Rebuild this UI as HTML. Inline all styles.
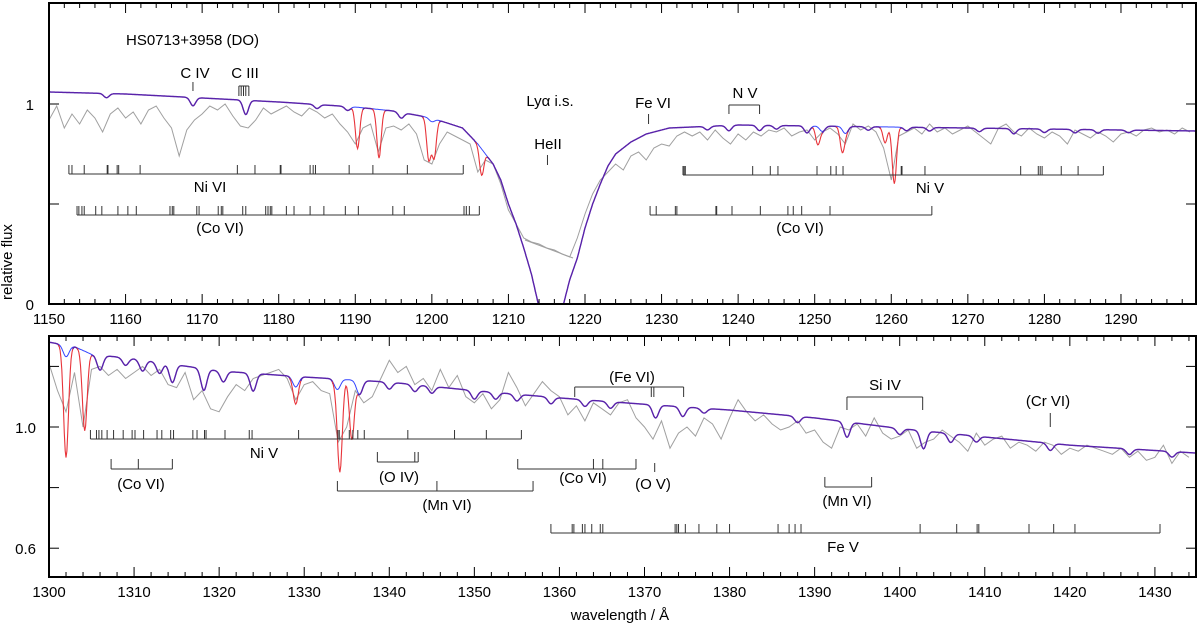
<!DOCTYPE html>
<html><head><meta charset="utf-8"><style>
html,body{margin:0;padding:0;background:#fff;}
svg{display:block;font-family:"Liberation Sans",Arial,sans-serif;}
</style></head><body>
<svg id="chart" width="1200" height="627" viewBox="0 0 1200 627" xmlns="http://www.w3.org/2000/svg">
<defs>
<clipPath id="clipTop"><rect x="49" y="3" width="1147" height="301"/></clipPath>
<clipPath id="clipBot"><rect x="49" y="336" width="1147" height="241"/></clipPath>
</defs>
<g id="topG"></g>
<g id="botG"></g>
<g id="annG"></g>
<g id="axG"></g>
<text x="12" y="262" font-size="15" text-anchor="middle" transform="rotate(-90 12 262)">relative flux</text>
<text x="620" y="620" font-size="15" text-anchor="middle">wavelength / Å</text>
<text x="126" y="45" font-size="15">HS0713+3958 (DO)</text>
</svg>
<script>
// ---------- data ----------
const topObsStart = 1150;
const topObs = [0.92,0.99,0.88,0.95,0.90,0.97,0.93,0.86,0.95,0.98,
0.93,0.96,0.90,0.97,0.99,0.93,0.88,0.74,0.87,0.92,
0.95,0.99,0.97,1.00,0.94,0.89,0.88,0.92,0.98,0.95,
0.97,0.99,0.96,0.94,0.98,0.96,0.93,0.95,0.90,0.86,
0.80,0.88,0.90,0.76,0.88,0.89,0.87,0.90,0.85,0.72,
0.70,0.80,0.86,0.84,0.82,0.80,0.66,0.72,0.70,0.60,
0.47,0.40,0.33,0.31,0.30,0.28,0.27,0.25,0.235,0.33,
0.45,0.55,0.62,0.66,0.70,0.67,0.74,0.76,0.72,0.78,
0.80,0.79,0.84,0.86,0.84,0.86,0.82,0.87,0.83,0.80,
0.85,0.82,0.86,0.84,0.87,0.86,0.88,0.84,0.86,0.87,
0.82,0.86,0.88,0.85,0.80,0.90,0.87,0.89,0.86,0.78,
0.62,0.84,0.86,0.88,0.85,0.90,0.86,0.88,0.85,0.87,
0.89,0.86,0.83,0.80,0.88,0.90,0.86,0.84,0.88,0.85,
0.83,0.86,0.84,0.80,0.87,0.85,0.83,0.86,0.84,0.81,
0.85,0.86,0.84,0.87,0.88,0.86,0.87,0.85,0.88,0.86];
const topContWl = [1150,1160,1170,1180,1190,1195,1200,1204,1206,1208,1209,1210,1211,1212,1213,1213.9,1217.2,1218,1219,1220,1221,1222,1223,1224,1226,1228,1231,1240,1260,1280,1300];
const topContFx = [1.06,1.05,1.03,1.01,0.985,0.965,0.93,0.88,0.80,0.70,0.62,0.50,0.40,0.28,0.15,0.0,0.0,0.12,0.23,0.38,0.50,0.60,0.69,0.75,0.81,0.85,0.88,0.895,0.885,0.875,0.865];
const topBaseLineWl = [1157.5,1168.8,1175.7,1185,1189,1196,1200,1236,1238.8,1242.8,1245,1249,1251,1254,1257,1262,1265,1271.5,1276,1280,1284,1287,1291];
const topBaseLineDp = [0.02,0.04,0.07,0.02,0.02,0.03,0.02,0.02,0.03,0.03,0.02,0.04,0.03,0.04,0.02,0.02,0.02,0.02,0.03,0.02,0.02,0.02,0.015];
const topRedWl = [1190.3,1193.1,1199.6,1200.3,1206.5,1250.4,1253.6,1259.2,1260.4];
const topRedDp = [0.21,0.25,0.22,0.2,0.17,0.10,0.13,0.09,0.32];

const botObsStart = 1300;
const botObs = [1.21,1.12,1.05,1.18,1.00,1.19,1.20,1.17,1.19,1.16,
1.18,1.20,1.17,1.19,1.14,1.13,1.18,1.09,1.12,1.06,
1.05,1.10,1.14,1.12,1.16,1.17,1.18,1.19,1.16,1.09,
1.14,1.15,1.12,1.11,0.95,1.00,1.12,1.08,1.10,1.16,
1.22,1.18,1.20,1.14,1.16,1.12,1.19,1.13,1.17,1.10,
1.08,1.11,1.06,1.09,1.18,1.13,1.07,1.11,1.15,1.12,
1.10,1.04,1.07,1.02,1.08,1.06,1.04,1.08,1.09,1.03,
1.00,0.96,1.02,0.93,0.98,1.00,0.97,1.03,1.01,0.96,
1.03,1.09,1.05,1.02,1.04,1.01,0.99,1.00,1.02,0.98,
0.99,0.95,0.93,1.00,0.99,1.01,0.97,1.03,0.98,0.96,
0.97,0.99,0.93,0.95,0.96,0.99,0.97,0.95,0.92,0.98,
0.94,0.96,0.97,0.93,0.95,0.94,0.92,0.95,0.94,0.91,
0.93,0.92,0.94,0.93,0.92,0.91,0.93,0.90,0.92,0.89,
0.90,0.94,0.88,0.92,0.90];
const botContWl = [1300,1303,1305,1310,1320,1330,1340,1350,1360,1370,1380,1390,1400,1410,1420,1436];
const botContFx = [1.28,1.265,1.24,1.225,1.185,1.165,1.148,1.12,1.096,1.075,1.056,1.03,0.995,0.967,0.94,0.912];
const botBaseLineWl = [1302,1306,1309,1311,1313,1314.5,1318.2,1320.5,1324,1329,1333.9,1336.5,1340,1343,1345,1350,1352.5,1355,1359,1363,1366,1371.3,1374.5,1377,1388,1393.8,1400,1402.8,1406,1409,1417.7,1427,1432];
const botBaseLineDp = [0.03,0.04,0.02,0.03,0.03,0.05,0.06,0.03,0.05,0.03,0.03,0.04,0.02,0.02,0.02,0.025,0.02,0.02,0.02,0.02,0.02,0.04,0.03,0.015,0.02,0.05,0.02,0.06,0.03,0.02,0.025,0.02,0.02];
const botRedWl = [1302.0,1304.2,1329.0,1334.2,1335.6];
const botRedDp = [0.27,0.21,0.05,0.25,0.17];

const topTicksMajor = [1150,1160,1170,1180,1190,1200,1210,1220,1230,1240,1250,1260,1270,1280,1290];
const botTicksMajor = [1300,1310,1320,1330,1340,1350,1360,1370,1380,1390,1400,1410,1420,1430];

const niVITop = [1152.6,1153.0,1154.6,1157.6,1157.7,1158.9,1159.1,1161.9,1174.6,1176.9,1180.2,1180.3,1184.1,1184.5,1184.8,1189.2,1192.3,1196.8,1204.1];
const coVITopL = [1153.66,1153.9,1154.3,1154.6,1156.1,1156.9,1159.0,1160.3,1161.4,1165.8,1166.1,1166.3,1169.3,1169.6,1172.1,1172.5,1172.7,1175.3,1175.7,1178.3,1178.6,1178.9,1179.1,1181.0,1182.0,1184.1,1185.9,1188.7,1190.4,1194.9,1196.4,1204.2,1204.5,1204.9,1206.2];
const niVTop = [1232.8,1232.95,1233.1,1241.9,1244.2,1245.2,1250.3,1252.1,1252.8,1253.7,1261.3,1261.4,1264.4,1276.9,1279.2,1279.45,1279.7,1282.2,1284.4,1287.7];
const coVITopR = [1228.5,1229.3,1231.8,1232.0,1237.1,1237.2,1239.2,1242.9,1246.5,1247.2,1248.3,1252.0,1265.3];
const niVBot = [1304.87,1305.58,1305.87,1306.21,1306.83,1307.59,1308.72,1309.77,1310.11,1311.12,1312.7,1313.26,1314.3,1314.64,1316.91,1317.4,1318.28,1318.46,1320.69,1323.54,1323.87,1329.34,1333.96,1334.12,1335.3,1335.72,1336.3,1337.06,1342.18,1347.67,1351.41,1355.53];
const feVBot = [1359.0,1361.5,1361.7,1362.7,1363.0,1363.8,1364.8,1365.1,1373.6,1373.8,1374.0,1374.8,1376.4,1378.5,1380.0,1385.7,1387.0,1387.7,1388.4,1402.4,1406.7,1409.1,1409.3,1415.2,1418.1,1420.6,1430.6];
const coVIBotL = [1307.3,1310.5,1314.5];
const oIVBot = [1338.6,1343.0,1343.4];
const mnVIBotL = [1333.9,1345.6,1356.9];
const coVIBotM = [1355.1,1364.0,1365.1,1369.0];
const feVIBot = [1361.8,1370.8,1371.1,1374.6];
const mnVIBotR = [1391.2,1396.7];
const siIVBot = [1393.8,1402.7];
const nVTop = [1238.8,1242.8];
const cIIITop = [1174.8,1175.1,1175.4,1175.7,1176.1];

// ---------- axes ----------
const NS='http://www.w3.org/2000/svg';
const xTop = l => 49 + (l-1150)*7.657;
const yTop = f => 304 - f*200;
const xBot = l => 49 + (l-1300)*8.507;
const yBot = f => 427 - (f-1)*303;

function el(tag, attrs, parent){const e=document.createElementNS(NS,tag);for(const k in attrs)e.setAttribute(k,attrs[k]);parent.appendChild(e);return e;}
function interp(xs,ys,x){if(x<=xs[0])return ys[0];for(let i=1;i<xs.length;i++){if(x<=xs[i]){const t=(x-xs[i-1])/(xs[i]-xs[i-1]);return ys[i-1]+t*(ys[i]-ys[i-1]);}}return ys[ys.length-1];}
function prof(l,wl,dp,s){let p=1;for(let i=0;i<wl.length;i++){const d=(l-wl[i])/s;if(Math.abs(d)<5)p*=1-dp[i]*Math.exp(-d*d/2);}return p;}

function drawPanel(g,clip,x0,x1,xf,yf,obsStart,obs,cw,cf,bw,bd,rw,rd,nm){
  const gg=el('g',{'clip-path':'url(#'+clip+')'},g);
  let d='';obs.forEach((v,i)=>{d+=(i?'L':'M')+xf(obsStart+i).toFixed(1)+' '+yf(v).toFixed(1);});
  const po=el('path',{d:d,fill:'none',stroke:'#a0a0a0','stroke-width':1},gg);
  
  
  let db='',segs=[],cur=null;
  for(let l=x0;l<=x1;l+=0.1){
    const base=interp(cw,cf,l)*prof(l,bw,bd,0.35);
    const full=base*prof(l,rw,rd,0.28);
    const X=xf(l).toFixed(1);
    db+=(db?'L':'M')+X+' '+yf(base).toFixed(1);
    const red=(base-full)>0.004;
    const pt=X+' '+yf(full).toFixed(1);
    if(!cur||cur.red!==red){if(cur)cur.pts.push(pt);cur={red:red,pts:cur?[cur.pts[cur.pts.length-2]||pt,pt]:[pt]};segs.push(cur);}else cur.pts.push(pt);
  }
  const pb=el('path',{d:db,fill:'none',stroke:'#3344ff','stroke-width':1},gg);
  
  
  segs.forEach(s=>{
    const p=el('path',{d:'M'+s.pts.join('L'),fill:'none',stroke:s.red?'#e8343a':'#5a22a8','stroke-width':s.red?1.1:1.4},gg);
    
    
  });
}
drawPanel(document.getElementById('topG'),'clipTop',1150,1299.9,xTop,yTop,topObsStart,topObs,topContWl,topContFx,topBaseLineWl,topBaseLineDp,topRedWl,topRedDp,'top');
drawPanel(document.getElementById('botG'),'clipBot',1300,1434.9,xBot,yBot,botObsStart,botObs,botContWl,botContFx,botBaseLineWl,botBaseLineDp,botRedWl,botRedDp,'bottom');

const ax=document.getElementById('axG');
function frame(y0,y1,name){const r=el('rect',{x:49,y:y0,width:1147,height:y1-y0,fill:'none',stroke:'#000','stroke-width':2},ax);}
frame(3,304,'top-frame');frame(336,577,'bottom-frame');
function xticks(lo,hi,xf,yt,yb,majors){
  for(let l=lo;l<=hi;l+=2){const X=xf(l);const maj=l%10===0;const L=maj?10:5;
    el('line',{x1:X,y1:yb,x2:X,y2:yb-L,stroke:'#000','stroke-width':1},ax);
    el('line',{x1:X,y1:yt,x2:X,y2:yt+L,stroke:'#000','stroke-width':1},ax);}
  majors.forEach(m=>{const t=el('text',{x:xf(m),y:yb+20,'font-size':15,'text-anchor':'middle'},ax);t.textContent=m;
    
    });
}
xticks(1150,1298,xTop,3,304,topTicksMajor);
xticks(1300,1434,xBot,336,577,botTicksMajor);
function yt(Y,L){el('line',{x1:49,y1:Y,x2:49+L,y2:Y,stroke:'#000','stroke-width':1},ax);el('line',{x1:1196,y1:Y,x2:1196-L,y2:Y,stroke:'#000','stroke-width':1},ax);}
[0,0.5,1].forEach(f=>yt(yTop(f),10));
[0.6,0.8,1.0,1.2].forEach(f=>yt(yBot(f),10));
[['1',yTop(1)],['0',yTop(0)]].forEach(a=>{const t=el('text',{x:34,y:a[1]+6,'font-size':15,'text-anchor':'end'},ax);t.textContent=a[0];
  
  });
[['1.0',yBot(1)],['0.6',yBot(0.6)]].forEach(a=>{const t=el('text',{x:36,y:a[1]+6,'font-size':15,'text-anchor':'end'},ax);t.textContent=a[0];
  
  });

const an=document.getElementById('annG');
function list(xf,ticks,y,dir,len,lineFrom,name){
  const g=el('g',{stroke:'#333','stroke-width':1},an);
  
  
  const a=lineFrom!==undefined?lineFrom:ticks[0], b=ticks[ticks.length-1];
  el('line',{x1:xf(a),y1:y,x2:xf(b),y2:y},g);
  ticks.forEach(l=>el('line',{x1:xf(l),y1:y,x2:xf(l),y2:y+dir*len},g));
}
function label(x,y,s,name){const t=el('text',{x:x,y:y,'font-size':15,'text-anchor':'middle'},an);t.textContent=s;
  
  }

list(xTop,niVITop,174,-1,9,undefined,'ni6-top-list');label(210,192,'Ni VI','ni6-top-label');
list(xTop,coVITopL,215,-1,9,undefined,'co6-top-left-list');label(220,233,'(Co VI)','co6-top-left-label');
list(xTop,niVTop,175,-1,9,undefined,'ni5-top-list');label(930,193,'Ni V','ni5-top-label');
list(xTop,coVITopR,215,-1,9,undefined,'co6-top-right-list');label(800,233,'(Co VI)','co6-top-right-label');
list(xTop,nVTop,105,1,9,undefined,'n5-bracket');label(745,98,'N V','n5-label');
list(xTop,[1168.8],82,1,9,1168.8,'c4-tick');label(195,78,'C IV','c4-label');
list(xTop,cIIITop,86,1,10,1174.8,'c3-ticks');label(245,78,'C III','c3-label');
list(xTop,[1215.1],155,1,10,1215.1,'he2-tick');label(548,149,'HeII','he2-label');
list(xTop,[1228.3],114,1,10,1228.3,'fe6-top-tick');label(653,108,'Fe VI','fe6-top-label');
label(550,106,'Lyα i.s.','lya-label');
const gl=el('line',{x1:525,y1:240,x2:573,y2:258,stroke:'#a0a0a0','stroke-width':1},an);



list(xBot,niVBot,439,-1,9,undefined,'ni5-bottom-list');label(264,458,'Ni V','ni5-bottom-label');
list(xBot,coVIBotL,469,-1,10,undefined,'co6-bottom-left-list');label(141,489,'(Co VI)','co6-bottom-left-label');
list(xBot,oIVBot,462,-1,10,undefined,'o4-list');label(399,482,'(O IV)','o4-label');
list(xBot,mnVIBotL,491,-1,10,undefined,'mn6-bottom-left-list');label(447,510,'(Mn VI)','mn6-bottom-left-label');
list(xBot,coVIBotM,469,-1,10,undefined,'co6-bottom-mid-list');label(583,483,'(Co VI)','co6-bottom-mid-label');
list(xBot,feVIBot,387,1,10,undefined,'fe6-bottom-list');label(632,382,'(Fe VI)','fe6-bottom-label');
list(xBot,[1371.2],463,1,9,1371.2,'o5-tick');label(653,489,'(O V)','o5-label');
list(xBot,feVBot,533,-1,9,undefined,'fe5-list');label(843,552,'Fe V','fe5-label');
list(xBot,mnVIBotR,487,-1,10,undefined,'mn6-bottom-right-list');label(847,506,'(Mn VI)','mn6-bottom-right-label');
list(xBot,siIVBot,397,1,13,undefined,'si4-bracket');label(885,390,'Si IV','si4-label');
list(xBot,[1417.7],413,1,14,1417.7,'cr6-tick');label(1048,406,'(Cr VI)','cr6-label');
</script>
</body></html>
